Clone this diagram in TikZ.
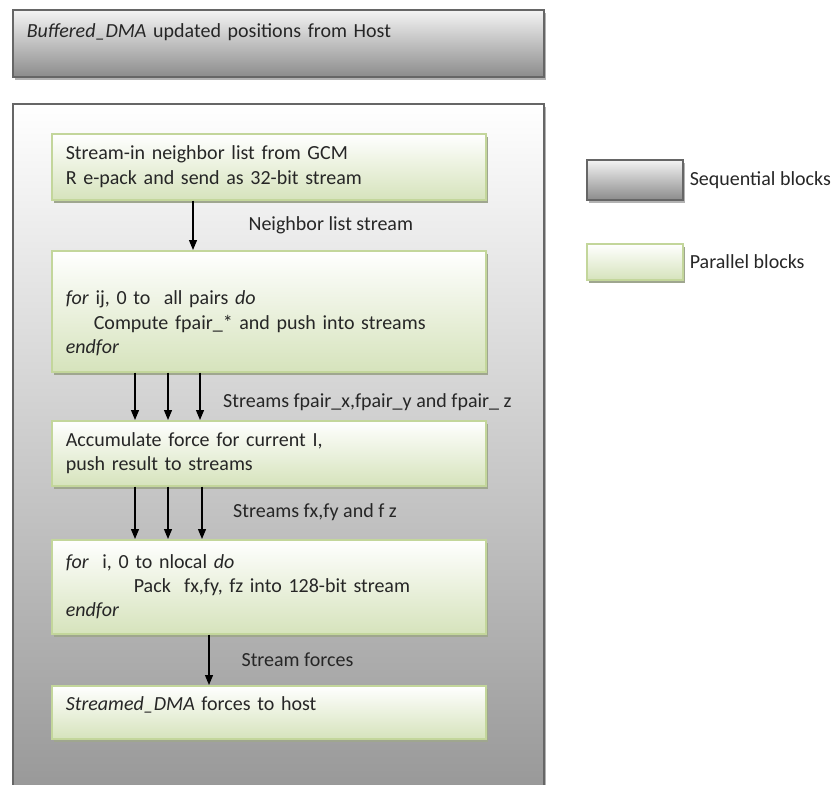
\documentclass[tikz,border=0pt]{standalone}
\usepackage{fontspec}
\setmainfont{Carlito}
\usetikzlibrary{calc}
\usetikzlibrary{arrows.meta}
\usetikzlibrary{shadows}

\definecolor{seqline}{HTML}{666666}
\definecolor{seqtop}{HTML}{F4F4F4}
\definecolor{seqbot}{HTML}{8C8C8C}
\definecolor{parline}{HTML}{C3D69B}
\definecolor{parbot}{HTML}{D6E3BC}
\definecolor{parshade}{HTML}{9FA68F}

\begin{document}
\begin{tikzpicture} [x=1pt, y=-1pt,
  txt/.style={font=\fontsize{20}{24.4}\selectfont, text=black!85},
  seqbox/.style={txt, draw=seqline, line width=1.6pt, top color=seqtop, bottom color=seqbot,
    drop shadow={shadow xshift=2pt, shadow yshift=-3pt, fill=black!30, opacity=1},
    anchor=north west, align=left, inner xsep=14pt, inner ysep=0pt},
  parbox/.style={txt, draw=parline, line width=1.6pt, top color=white, bottom color=parbot,
    drop shadow={shadow xshift=2pt, shadow yshift=-3pt, fill=parshade, opacity=1},
    anchor=north west, align=left, text width=406pt, inner xsep=14pt, inner ysep=0pt},
  flow/.style={-{Triangle[length=10pt, width=8pt]}, line width=1.2pt},
  lbl/.style={txt, anchor=west, inner sep=0pt}]
\clip (0,0) rectangle (834,784);

\node[seqbox, text width=503pt, minimum height=67pt] (host) at (12,9)
  {\textit{Buffered\_DMA} updated positions from Host\\[-6pt] \strut};
\node[seqbox, text width=503pt, minimum height=700pt, top color=white, bottom color=black!41,
  drop shadow={opacity=0}] (kernel) at (12,103) {};

\node[parbox, minimum height=66pt] (nbr) at (51,133)
  {Stream-in neighbor list from GCM\\ R e-pack and send as 32-bit stream};
\node[parbox, minimum height=121pt] (pairs) at (51,250)
  {\strut\\[-3pt] \textit{for} ij, 0 to\ \ all pairs \textit{do}\\
   \hspace*{28pt}Compute fpair\_* and push into streams\\ \textit{endfor}};
\node[parbox, minimum height=65pt] (accum) at (51,420)
  {Accumulate force for current I,\\ push result to streams};
\node[parbox, minimum height=94pt] (pack) at (51,539)
  {\textit{for}\ \ i, 0 to nlocal \textit{do}\\
   \hspace*{68pt}Pack\ \ fx,fy, fz into 128-bit stream\\ \textit{endfor}};
\node[parbox, minimum height=53pt] (dma) at (51,685)
  {\textit{Streamed\_DMA} forces to host\\[-15pt] \strut};

\draw[flow] ([xshift=142pt]nbr.south west) -- ([xshift=142pt]pairs.north west)
  node[lbl, midway, xshift=55pt] (l1) {Neighbor list stream};
\foreach \dx in {84, 117, 149}
  \draw[flow] ([xshift=\dx pt]pairs.south west) -- ([xshift=\dx pt]accum.north west);
\node[lbl] (l2) at (223,402) {Streams fpair\_x,fpair\_y and fpair\_ z};
\foreach \dx in {84, 117, 151}
  \draw[flow] ([xshift=\dx pt]accum.south west) -- ([xshift=\dx pt]pack.north west);
\node[lbl] (l3) at (233,512) {Streams fx,fy and f z};
\draw[flow] ([xshift=158pt]pack.south west) -- ([xshift=158pt]dma.north west)
  node[lbl, midway, xshift=32pt] (l4) {Stream forces};

% legend
\node[seqbox, minimum width=96pt, minimum height=40pt, inner xsep=0pt] (seqkey) at (586,159) {};
\node[lbl] (seqlbl) at ([xshift=6pt]seqkey.east) {Sequential blocks};
\node[parbox, text width=96pt, minimum height=36pt, inner xsep=0pt] (parkey) at (586,243) {};
\node[lbl] (parlbl) at ([xshift=6pt]parkey.east) {Parallel blocks};

\end{tikzpicture}
\end{document}
